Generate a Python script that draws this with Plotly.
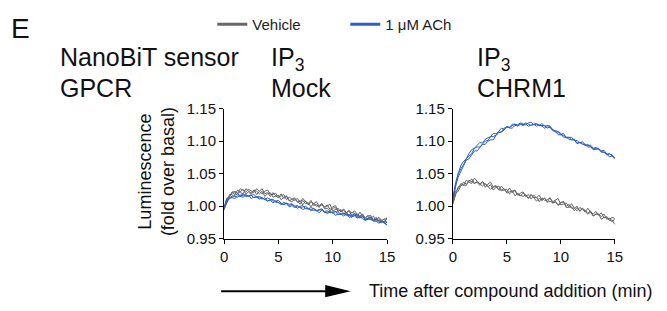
import plotly.graph_objects as go

# ---------------- data ----------------
time_min = [0, 0.25, 0.5, 0.75, 1, 1.25, 1.5, 1.75, 2, 2.25, 2.5, 2.75, 3, 3.25, 3.5, 3.75,
            4, 4.25, 4.5, 4.75, 5, 5.25, 5.5, 5.75, 6, 6.25, 6.5, 6.75, 7, 7.25, 7.5, 7.75,
            8, 8.25, 8.5, 8.75, 9, 9.25, 9.5, 9.75, 10, 10.25, 10.5, 10.75, 11, 11.25, 11.5, 11.75,
            12, 12.25, 12.5, 12.75, 13, 13.25, 13.5, 13.75, 14, 14.25, 14.5, 14.75, 15]

mock_vehicle = [
    [0.995, 1.012, 1.015, 1.022, 1.018, 1.025, 1.021, 1.019, 1.027, 1.023, 1.020, 1.025, 1.018, 1.023, 1.027, 1.019,
     1.021, 1.015, 1.021, 1.016, 1.013, 1.019, 1.012, 1.015, 1.008, 1.011, 1.013, 1.006, 1.009, 1.002, 1.008, 1.004,
     1.009, 1.001, 1.003, 0.998, 1.004, 0.998, 1.000, 1.003, 0.993, 0.995, 0.997, 0.991, 0.996, 0.990, 0.986, 0.991,
     0.989, 0.984, 0.991, 0.985, 0.982, 0.986, 0.981, 0.985, 0.977, 0.981, 0.977, 0.981, 0.980],
    [0.994, 1.007, 1.018, 1.018, 1.023, 1.019, 1.022, 1.026, 1.019, 1.022, 1.018, 1.025, 1.023, 1.019, 1.023, 1.015,
     1.019, 1.021, 1.014, 1.015, 1.017, 1.010, 1.014, 1.016, 1.009, 1.007, 1.011, 1.008, 1.003, 1.009, 1.004, 1.005,
     0.999, 1.005, 1.000, 1.001, 1.004, 0.996, 0.997, 0.993, 0.997, 0.998, 0.992, 0.995, 0.989, 0.990, 0.993, 0.985,
     0.989, 0.987, 0.983, 0.987, 0.979, 0.982, 0.983, 0.979, 0.983, 0.977, 0.979, 0.974, 0.983],
    [0.996, 1.012, 1.014, 1.022, 1.022, 1.020, 1.027, 1.025, 1.022, 1.026, 1.023, 1.021, 1.027, 1.023, 1.019, 1.023,
     1.025, 1.018, 1.018, 1.020, 1.014, 1.016, 1.018, 1.010, 1.014, 1.011, 1.009, 1.012, 1.006, 1.012, 1.007, 1.002,
     1.007, 1.004, 1.007, 1.000, 1.002, 0.999, 1.002, 0.995, 0.999, 1.001, 0.993, 0.994, 0.994, 0.989, 0.994, 0.989,
     0.993, 0.988, 0.985, 0.988, 0.982, 0.985, 0.986, 0.978, 0.981, 0.983, 0.978, 0.980, 0.974],
]
mock_ach = [
    [0.998, 1.009, 1.011, 1.016, 1.015, 1.014, 1.017, 1.018, 1.015, 1.016, 1.017, 1.013, 1.015, 1.013, 1.011, 1.013,
     1.008, 1.010, 1.011, 1.006, 1.006, 1.003, 1.006, 1.004, 1.001, 1.003, 1.000, 0.997, 1.000, 1.001, 0.996, 0.996,
     0.994, 0.997, 0.993, 0.994, 0.995, 0.990, 0.991, 0.992, 0.989, 0.992, 0.987, 0.988, 0.989, 0.986, 0.987, 0.983,
     0.987, 0.984, 0.982, 0.984, 0.979, 0.981, 0.980, 0.978, 0.980, 0.975, 0.977, 0.974, 0.971],
    [0.997, 1.006, 1.013, 1.013, 1.012, 1.016, 1.015, 1.014, 1.017, 1.016, 1.012, 1.014, 1.014, 1.011, 1.013, 1.010,
     1.008, 1.009, 1.005, 1.008, 1.006, 1.003, 1.003, 1.004, 0.999, 1.001, 0.998, 1.000, 0.998, 0.995, 0.997, 0.997,
     0.994, 0.994, 0.994, 0.990, 0.994, 0.991, 0.989, 0.991, 0.991, 0.986, 0.988, 0.988, 0.985, 0.988, 0.983, 0.984,
     0.985, 0.982, 0.984, 0.981, 0.978, 0.980, 0.981, 0.977, 0.977, 0.974, 0.976, 0.976, 0.971],
    [0.999, 1.011, 1.013, 1.014, 1.017, 1.019, 1.016, 1.017, 1.018, 1.015, 1.017, 1.018, 1.014, 1.015, 1.013, 1.010,
     1.013, 1.011, 1.008, 1.008, 1.009, 1.005, 1.003, 1.005, 1.003, 1.004, 1.000, 1.001, 0.998, 0.999, 1.000, 0.996,
     0.998, 0.996, 0.993, 0.995, 0.996, 0.992, 0.993, 0.990, 0.991, 0.992, 0.991, 0.988, 0.988, 0.990, 0.985, 0.987,
     0.986, 0.987, 0.983, 0.984, 0.980, 0.981, 0.983, 0.979, 0.980, 0.978, 0.975, 0.977, 0.975],
]
chrm1_vehicle = [
    [1.004, 1.018, 1.030, 1.031, 1.037, 1.034, 1.038, 1.042, 1.035, 1.037, 1.032, 1.038, 1.034, 1.030, 1.033, 1.025,
     1.029, 1.031, 1.024, 1.025, 1.026, 1.019, 1.023, 1.025, 1.018, 1.016, 1.020, 1.017, 1.012, 1.018, 1.013, 1.014,
     1.007, 1.013, 1.009, 1.010, 1.013, 1.005, 1.006, 1.002, 1.006, 1.007, 1.000, 1.003, 0.997, 0.997, 1.000, 0.992,
     0.996, 0.994, 0.989, 0.993, 0.985, 0.988, 0.988, 0.984, 0.988, 0.980, 0.982, 0.976, 0.981],
    [1.003, 1.020, 1.023, 1.032, 1.033, 1.032, 1.040, 1.038, 1.035, 1.038, 1.034, 1.031, 1.035, 1.031, 1.026, 1.030,
     1.032, 1.025, 1.025, 1.027, 1.020, 1.022, 1.024, 1.016, 1.020, 1.017, 1.015, 1.018, 1.012, 1.018, 1.013, 1.008,
     1.012, 1.009, 1.013, 1.006, 1.008, 1.005, 1.008, 1.001, 1.005, 1.007, 0.998, 0.999, 0.999, 0.993, 0.998, 0.993,
     0.997, 0.992, 0.988, 0.991, 0.985, 0.988, 0.988, 0.980, 0.983, 0.983, 0.978, 0.979, 0.972],
    [1.005, 1.023, 1.027, 1.035, 1.032, 1.040, 1.037, 1.035, 1.043, 1.038, 1.034, 1.038, 1.029, 1.034, 1.037, 1.029,
     1.031, 1.025, 1.031, 1.026, 1.022, 1.028, 1.021, 1.024, 1.017, 1.020, 1.022, 1.015, 1.018, 1.011, 1.017, 1.013,
     1.017, 1.009, 1.012, 1.007, 1.013, 1.007, 1.009, 1.012, 1.002, 1.004, 1.005, 0.999, 1.004, 0.997, 0.993, 0.998,
     0.996, 0.991, 0.997, 0.991, 0.988, 0.992, 0.986, 0.990, 0.982, 0.984, 0.980, 0.983, 0.981],
]
chrm1_ach = [
    [1.012, 1.036, 1.050, 1.063, 1.069, 1.073, 1.081, 1.087, 1.089, 1.093, 1.098, 1.097, 1.103, 1.105, 1.107, 1.112,
     1.111, 1.115, 1.120, 1.118, 1.122, 1.121, 1.126, 1.126, 1.125, 1.128, 1.127, 1.125, 1.128, 1.129, 1.125, 1.126,
     1.124, 1.127, 1.123, 1.124, 1.123, 1.117, 1.116, 1.115, 1.110, 1.112, 1.105, 1.106, 1.106, 1.101, 1.101, 1.097,
     1.099, 1.095, 1.093, 1.094, 1.089, 1.090, 1.088, 1.085, 1.086, 1.080, 1.081, 1.077, 1.075],
    [1.010, 1.031, 1.050, 1.058, 1.064, 1.073, 1.077, 1.081, 1.089, 1.091, 1.091, 1.096, 1.100, 1.101, 1.107, 1.107,
     1.109, 1.114, 1.114, 1.120, 1.122, 1.121, 1.123, 1.126, 1.123, 1.126, 1.125, 1.128, 1.126, 1.124, 1.126, 1.127,
     1.124, 1.124, 1.124, 1.120, 1.122, 1.118, 1.114, 1.114, 1.112, 1.106, 1.106, 1.106, 1.102, 1.103, 1.097, 1.098,
     1.097, 1.093, 1.095, 1.091, 1.088, 1.089, 1.089, 1.084, 1.083, 1.079, 1.080, 1.079, 1.073],
    [1.008, 1.031, 1.045, 1.054, 1.064, 1.071, 1.073, 1.079, 1.085, 1.085, 1.091, 1.095, 1.095, 1.100, 1.102, 1.102,
     1.109, 1.113, 1.114, 1.117, 1.122, 1.120, 1.120, 1.124, 1.124, 1.126, 1.124, 1.126, 1.123, 1.125, 1.126, 1.123,
     1.125, 1.123, 1.120, 1.122, 1.121, 1.116, 1.115, 1.110, 1.109, 1.109, 1.106, 1.103, 1.102, 1.102, 1.096, 1.098,
     1.095, 1.095, 1.091, 1.091, 1.087, 1.087, 1.088, 1.083, 1.083, 1.080, 1.076, 1.077, 1.074],
]

x_ticks = [0, 5, 10, 15]
y_ticks = [0.95, 1.00, 1.05, 1.10, 1.15]
legend_names = ["Vehicle", "1 μM ACh"]

# ---------------- style ----------------
OFF = 8                      # page body margin
W, H = 667 - OFF, 311 - OFF  # figure size inside the window
FONT = "Liberation Sans, Arial, sans-serif"
GRAY = "#686868"
BLUE = "#2f5fc0"


def px(x):
    return (x - OFF) / W


def py(y):
    return 1 - (y - OFF) / H


fig = go.Figure()

for xa, ya, groups in [("x", "y", [(mock_vehicle, GRAY), (mock_ach, BLUE)]),
                       ("x2", "y2", [(chrm1_vehicle, GRAY), (chrm1_ach, BLUE)])]:
    for series, col in groups:
        for tr in series:
            fig.add_trace(go.Scatter(x=time_min, y=tr, mode="lines", xaxis=xa, yaxis=ya,
                                     line=dict(color=col, width=1), showlegend=False,
                                     hoverinfo="skip"))

# legend entries
for name, col in zip(legend_names, [GRAY, BLUE]):
    fig.add_trace(go.Scatter(x=[None], y=[None], mode="lines", name=name,
                             line=dict(color=col, width=3), showlegend=True))

axis_common = dict(showline=True, linecolor="black", linewidth=1, ticks="outside",
                   ticklen=4, tickwidth=1, tickcolor="black", showgrid=False,
                   zeroline=False, tickfont=dict(family=FONT, size=15, color="#111"))

fig.update_layout(
    width=W, height=H, margin=dict(l=0, r=0, t=0, b=0),
    paper_bgcolor="white", plot_bgcolor="white",
    font=dict(family=FONT, color="#111"),
    xaxis=dict(domain=[px(224), px(390)], range=[0, 15], tickvals=x_ticks,
               anchor="y", **axis_common),
    yaxis=dict(domain=[py(243), py(105)], range=[0.95, 1.15], tickvals=y_ticks,
               tickformat=".2f", anchor="x", **axis_common),
    xaxis2=dict(domain=[px(457), px(622)], range=[0, 15], tickvals=x_ticks,
                anchor="y2", **axis_common),
    yaxis2=dict(domain=[py(243), py(105)], range=[0.95, 1.15], tickvals=y_ticks,
                tickformat=".2f", anchor="x2", **axis_common),
    legend=dict(orientation="h", x=px(212), y=py(16), xanchor="left", yanchor="middle",
                font=dict(family=FONT, size=15, color="#222"), bgcolor="rgba(0,0,0,0)",
                entrywidth=88, entrywidthmode="pixels", tracegroupgap=0),
)

ann = []


def text(x, y, s, size, anchor="left", angle=0):
    ann.append(dict(x=px(x), y=py(y), xref="paper", yref="paper", text=s, showarrow=False,
                    xanchor=anchor, yanchor="middle", textangle=angle,
                    font=dict(family=FONT, size=size, color="#111")))


text(5, 20, "E", 28)
text(55, 50, "NanoBiT sensor", 25)
text(55, 83, "GPCR", 25)
text(270, 52, "IP<sub>3</sub>", 25)
text(270, 83, "Mock", 25)
text(480, 52, "IP<sub>3</sub>", 25)
text(480, 83, "CHRM1", 25)
text(155, 172, "Luminescence<br>(fold over basal)", 18, anchor="center", angle=-90)
text(370, 298, "Time after compound addition (min)", 18)

fig.update_layout(annotations=ann)

# arrow decoration
fig.add_shape(type="line", xref="paper", yref="paper",
              x0=px(221), x1=px(332), y0=py(298.5), y1=py(298.5),
              line=dict(color="black", width=2))
fig.add_shape(type="path", xref="paper", yref="paper",
              path=f"M {px(327)},{py(292)} L {px(353)},{py(298.5)} L {px(327)},{py(305)} Z",
              fillcolor="black", line=dict(color="black", width=0))

fig.write_html("out.html")
